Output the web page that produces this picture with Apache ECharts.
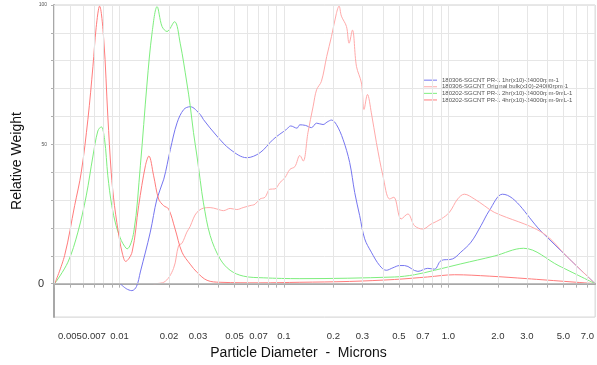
<!DOCTYPE html>
<html>
<head>
<meta charset="utf-8">
<script src="https://cdn.jsdelivr.net/npm/echarts@6.0.0/dist/echarts.min.js"></script>
<style>
  html, body { margin: 0; padding: 0; background: #fff; }
  .chart { width: 597px; height: 365px; }
</style>
</head>
<body>
<div class="chart"></div>
<script>
// 数据: [粒径(微米), 相对重量]
var seriesNames = [
    '180306-SGCNT PR-1 1hr(x10)-24000rpm-1',
    '180306-SGCNT Original bulk(x10)-24000rpm-1',
    '180202-SGCNT PR-1 2hr(x10)-24000rpm-9mL-1',
    '180202-SGCNT PR-1 4hr(x10)-24000rpm-9mL-1'
];
var seriesColors = ['#7676f0', '#ffaaaa', '#7eee7e', '#ff7c7c'];

var pr1hr = [
    [0.0101, 0], [0.0110, -1.8], [0.0119, -2.5], [0.0127, -1], [0.0134, 4.2], [0.0154, 18.5],
    [0.0169, 30.4], [0.0186, 37.5], [0.0204, 48.2], [0.0224, 57.7], [0.0246, 62.5], [0.0269, 63.5],
    [0.0310, 60.7], [0.0324, 58.9], [0.0391, 53], [0.0471, 48.2], [0.0594, 45.2], [0.0716, 47],
    [0.0861, 51.8], [0.1038, 55.4], [0.11, 56.6], [0.12, 55.8], [0.125, 57], [0.135, 56.8],
    [0.147, 56], [0.158, 57.6], [0.173, 57.1], [0.183, 58], [0.1946, 58.7], [0.2085, 57.1],
    [0.2287, 51.8], [0.251, 43.5], [0.2694, 32.7], [0.2888, 24.4], [0.3097, 16.1], [0.340, 11.3],
    [0.382, 6.5], [0.419, 4.8], [0.460, 5.7], [0.505, 6.5], [0.541, 6.5], [0.652, 4.4],
    [0.749, 5.5], [0.823, 5.2], [0.903, 8.3], [1.062, 8.9], [1.19, 11.3], [1.373, 14.9],
    [1.578, 20.8], [1.772, 26.2], [2.13, 32.1], [3.73, 18.3], [5.3, 9.5], [7.8, 0]
];
var bulk = [
    [0.0161, 0], [0.0186, 0.5], [0.0213, 5.4], [0.0229, 13.7], [0.0240, 14.5], [0.0257, 18.5],
    [0.0269, 20.5], [0.0282, 23.5], [0.0296, 25.6], [0.0324, 27.1], [0.0356, 27.3], [0.0391, 26.8],
    [0.0429, 26.2], [0.0471, 27], [0.0517, 26.6], [0.0565, 27.3], [0.0622, 28], [0.0667, 28.5],
    [0.0716, 30.4], [0.0767, 31], [0.0822, 33.9], [0.0882, 34], [0.0946, 36.3], [0.1014, 38],
    [0.1087, 41], [0.1166, 42], [0.125, 46], [0.131, 44], [0.140, 54.2], [0.1506, 63.7],
    [0.158, 69.6], [0.169, 72.6], [0.182, 81.5], [0.1946, 88.7], [0.2085, 97], [0.2163, 99.6],
    [0.2237, 96], [0.240, 92.3], [0.249, 86.3], [0.261, 91], [0.276, 78], [0.296, 72],
    [0.307, 62.5], [0.322, 67.9], [0.340, 61.3], [0.365, 50.6], [0.400, 38.7], [0.439, 30.4],
    [0.466, 31], [0.516, 23.2], [0.567, 25], [0.622, 20.8], [0.699, 19.6], [0.785, 21.4],
    [0.903, 23.2], [1.014, 25.6], [1.139, 30.4], [1.25, 32.1], [1.438, 30.4], [1.652, 28],
    [1.90, 25.6], [3.73, 18.3], [5.3, 9.5], [7.8, 0]
];
var pr2hr = [
    [0.00404, 0], [0.00486, 7.7], [0.00559, 18.5], [0.00628, 31.5], [0.00690, 45.8], [0.00739, 54.8],
    [0.00775, 56.3], [0.00812, 51.8], [0.00850, 38.7], [0.00898, 28], [0.00954, 20.8], [0.0101, 16.5],
    [0.01047, 14.5], [0.01113, 12.5], [0.01222, 18.5], [0.0134, 42.3], [0.01472, 72], [0.01578, 89.9],
    [0.01694, 99.4], [0.01815, 92.3], [0.01946, 90.5], [0.02163, 94], [0.0234, 86.3], [0.0257, 72],
    [0.0269, 64], [0.0282, 54.2], [0.0296, 45.8], [0.0310, 37], [0.0324, 29], [0.0356, 17.3],
    [0.0409, 8.9], [0.0471, 4.8], [0.0567, 2.7], [0.0749, 2.1], [0.125, 1.8], [0.471, 2.4],
    [0.622, 3.2], [0.823, 4.8], [1.19, 7.1], [1.90, 9.9], [2.86, 12.7], [4.7, 6.4], [7.8, 0]
];
var pr4hr = [
    [0.00404, 0], [0.00464, 10.1], [0.00534, 28], [0.00586, 40], [0.00643, 59], [0.00690, 78],
    [0.00722, 92], [0.00757, 99.6], [0.00803, 87.5], [0.00850, 60], [0.00891, 40], [0.00933, 28],
    [0.0100, 16], [0.0104, 11], [0.0109, 8], [0.01194, 11.4], [0.01309, 28], [0.01438, 42.3],
    [0.0151, 45.8], [0.01614, 38.7], [0.0173, 30.4], [0.01855, 28], [0.0199, 26.8], [0.0218, 19.6],
    [0.0240, 11.3], [0.0269, 7], [0.0297, 4], [0.0341, 1.2], [0.0409, 0.5], [0.0716, 0.3],
    [0.125, 0.5], [0.251, 0.8], [0.471, 1.5], [0.746, 2.4], [1.09, 3.2], [1.77, 2.7], [3.0, 1.8], [7.8, 0]
];

// 坐标轴刻度
var xTicks = [0.004, 0.005, 0.006, 0.007, 0.008, 0.009,
    0.01, 0.02, 0.03, 0.04, 0.05, 0.06, 0.07, 0.08, 0.09,
    0.1, 0.2, 0.3, 0.4, 0.5, 0.6, 0.7, 0.8, 0.9,
    1, 2, 3, 4, 5, 6, 7];
var xLabels = [0.005, 0.007, 0.01, 0.02, 0.03, 0.05, 0.07, 0.1, 0.2, 0.3, 0.5, 0.7, 1, 2, 3, 5, 7];
var yTicks = [0, 10, 20, 30, 40, 50, 60, 70, 80, 90, 100];
var yLabels = [0, 50, 100];

var myChart = echarts.init(document.querySelector('.chart'));

var fontName = 'Arial, "Liberation Sans", sans-serif';
var seriesData = [pr1hr, bulk, pr2hr, pr4hr];

var series = seriesData.map(function (d, i) {
    return {
        name: seriesNames[i],
        type: 'line',
        data: d,
        showSymbol: false,
        smooth: 0.35,
        lineStyle: { width: 1, color: seriesColors[i] },
        itemStyle: { color: seriesColors[i] },
        z: 3
    };
});

// 竖直网格线只画 0~100 之间
series.push({
    name: 'grid',
    type: 'line',
    data: [],
    z: 1,
    markLine: {
        silent: true,
        symbol: 'none',
        label: { show: false },
        animation: false,
        lineStyle: { color: '#e6e6e6', type: 'solid', width: 1 },
        data: xTicks.map(function (v) {
            return [{ coord: [v, 0] }, { coord: [v, 100] }];
        }).concat([[
            { coord: [0.004, 0], lineStyle: { color: '#bdbdbd' } },
            { coord: [7.8, 0] }
        ]])
    }
});

var option = {
    animation: false,
    backgroundColor: '#fff',
    grid: {
        left: 54, right: 1, top: 5, bottom: 46,
        show: true, borderColor: '#d0d0d0', borderWidth: 1
    },
    legend: {
        data: seriesNames,
        orient: 'vertical',
        left: 418,
        top: 72,
        icon: 'rect',
        itemWidth: 14,
        itemHeight: 1,
        itemGap: 0.3,
        textStyle: { fontSize: 6, lineHeight: 6.3, color: '#555', fontFamily: fontName }
    },
    xAxis: {
        type: 'log',
        min: 0.004,
        max: 7.8,
        name: 'Particle Diameter  -  Microns',
        nameLocation: 'middle',
        nameGap: 27,
        nameTextStyle: { fontSize: 14, color: '#111', fontFamily: fontName, padding: [0, 52, 0, 0] },
        axisLine: { lineStyle: { color: '#a8a8a8', width: 2 } },
        axisTick: { customValues: xTicks, length: 4, lineStyle: { color: '#b0b0b0' } },
        axisLabel: {
            customValues: xLabels,
            hideOverlap: false,
            margin: 14,
            fontSize: 9.5,
            color: '#333',
            fontFamily: fontName,
            formatter: function (v) {
                return v >= 1 ? v.toFixed(1) : String(v);
            }
        },
        splitLine: { show: false }
    },
    yAxis: {
        type: 'value',
        min: -12,
        max: 100,
        name: 'Relative Weight',
        nameLocation: 'middle',
        nameGap: 30,
        nameTextStyle: { fontSize: 14, color: '#111', fontFamily: fontName },
        axisLine: { show: true, lineStyle: { color: '#a8a8a8', width: 2 } },
        axisTick: { show: true, customValues: yTicks, length: 3, lineStyle: { color: '#b0b0b0' } },
        axisLabel: {
            customValues: yLabels,
            margin: 7,
            fontFamily: fontName,
            formatter: function (v) {
                return v === 0 ? '{big|0}' : '{small|' + v + '}';
            },
            rich: {
                big: { fontSize: 11, color: '#333', fontFamily: fontName, padding: [0, 3, 0, 0] },
                small: { fontSize: 5, color: '#555', fontFamily: fontName }
            }
        },
        splitLine: { show: true, lineStyle: { color: '#e6e6e6', width: 1 } }
    },
    series: series
};

myChart.setOption(option);
</script>
</body>
</html>
